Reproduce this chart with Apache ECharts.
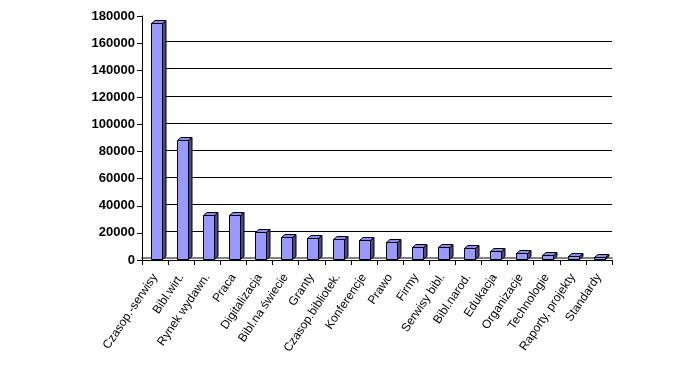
<!DOCTYPE html>
<html><head><meta charset="utf-8">
<script src="https://cdn.jsdelivr.net/npm/echarts@6/dist/echarts.min.js"></script>
<style>html,body{margin:0;padding:0;background:#fff}#c{width:694px;height:379px}</style>
</head><body><div id="c"></div>
<script>
var categories = ['Czasop.-serwisy','Bibl.wirt.','Rynek wydawn.','Praca','Digitalizacja','Bibl.na świecie','Granty','Czasop.bibliotek.','Konferencje','Prawo','Firmy','Serwisy bibl.','Bibl.narod.','Edukacja','Organizacje','Technologie','Raporty, projekty','Standardy'];
var values = [175000,88500,33000,33000,20500,16800,16500,15800,14500,13000,9500,9500,8900,6400,5000,3600,2800,2000];
var yTicks = {min:0, max:180000, interval:20000};

var chart = echarts.init(document.getElementById('c'), null, {renderer:'canvas'});
var font = 'Liberation Sans, Arial, sans-serif';
var lineColors = [];
var nLines = (yTicks.max - yTicks.min) / yTicks.interval;
for (var k = 0; k <= nLines; k++) {
  lineColors.push((k === 0 || k === nLines) ? 'rgba(0,0,0,0)' : '#000');
}
chart.setOption({
  animation:false,
  backgroundColor:'#fff',
  grid:[
    {left:142, right:82, top:16, bottom:119},
    {left:164, right:82, top:14.5, bottom:120.5}
  ],
  xAxis:[
    {type:'category', gridIndex:0, data:categories, boundaryGap:true,
     axisLine:{show:true, lineStyle:{color:'#000', width:1}},
     axisTick:{show:true, length:5, lineStyle:{color:'#000'}, interval:0},
     axisLabel:{interval:0, rotate:56, margin:15, color:'#000', fontFamily:font, fontSize:12},
     splitLine:{show:false}, z:3},
    {type:'category', gridIndex:0, data:categories, position:'bottom', offset:-2,
     axisLine:{show:true, lineStyle:{color:'#808080', width:2}},
     axisTick:{show:false}, axisLabel:{show:false}, splitLine:{show:false}, z:2},
    {type:'category', gridIndex:1, data:categories, show:false}
  ],
  yAxis:[
    {type:'value', gridIndex:0, min:yTicks.min, max:yTicks.max, interval:yTicks.interval,
     axisLine:{show:true, lineStyle:{color:'#000', width:1}},
     axisTick:{show:true, inside:false, length:5, lineStyle:{color:'#000'}},
     axisLabel:{margin:7, color:'#000', fontFamily:font, fontSize:13, fontWeight:'bold',
       formatter:function(v){return String(v);}},
     splitLine:{show:false}, z:3},
    {type:'value', gridIndex:1, min:yTicks.min, max:yTicks.max, interval:yTicks.interval,
     axisLine:{show:false}, axisTick:{show:false}, axisLabel:{show:false},
     splitLine:{show:true, lineStyle:{color:lineColors, width:1}}}
  ],
  series:[{
    type:'custom', xAxisIndex:0, yAxisIndex:0, z:5,
    data: values.map(function(v,i){return [i,v];}),
    encode:{x:0, y:1},
    renderItem:function(params, api){
      var v = api.value(1);
      var t = api.coord([api.value(0), v]);
      var b = api.coord([api.value(0), 0]);
      var bw = 11, d = 3.5, dy = 3;
      var x0 = Math.round(t[0] - 4.5) + 0.5, x1 = x0 + bw;
      var yt = Math.round(t[1]) + 0.5, yb = Math.round(b[1]) - 0.5;
      var st = {stroke:'#000', lineWidth:1};
      return {type:'group', children:[
        {type:'polygon', shape:{points:[[x1,yt],[x1+d,yt-dy],[x1+d,yb-dy],[x1,yb]]},
         style:Object.assign({fill:'#4c4c80'}, st)},
        {type:'polygon', shape:{points:[[x0,yt],[x0+d,yt-dy],[x1+d,yt-dy],[x1,yt]]},
         style:Object.assign({fill:'#8a8af0'}, st)},
        {type:'rect', shape:{x:x0, y:yt, width:bw, height:yb-yt},
         style:Object.assign({fill:'#9999ff'}, st)}
      ]};
    }
  }]
});
</script></body></html>
